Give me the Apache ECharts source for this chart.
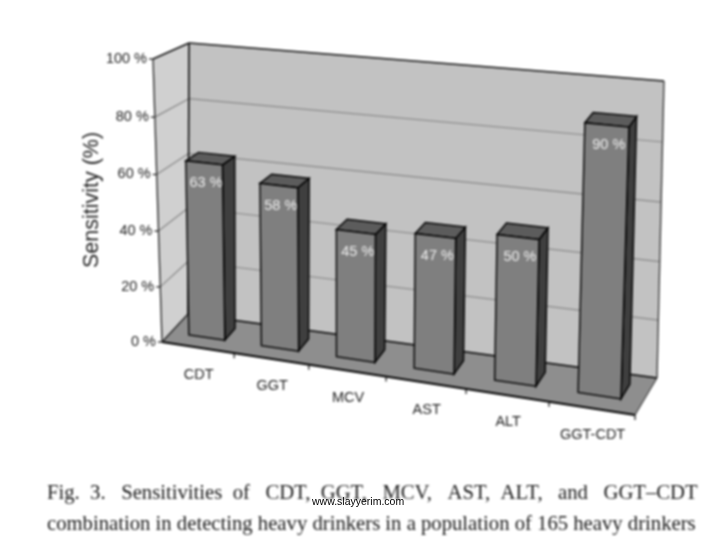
<!DOCTYPE html>
<html>
<head>
<meta charset="utf-8">
<style>
html,body{margin:0;padding:0;background:#fff}
#chart{width:720px;height:540px;filter:blur(0.8px)}
#mark{position:absolute;left:312px;top:495px;font:10.5px/12px "Liberation Sans",Arial,sans-serif;color:#000;white-space:nowrap}
</style>
<script src="https://cdn.jsdelivr.net/npm/echarts@6/dist/echarts.min.js"></script>
</head>
<body>
<div id="chart"></div>
<div id="mark"></div>
<script>
const categories = ['CDT', 'GGT', 'MCV', 'AST', 'ALT', 'GGT-CDT'];
const sensitivities = [63, 58, 45, 47, 50, 90];
const yTicks = [0, 20, 40, 60, 80, 100];
const yAxisTitle = 'Sensitivity (%)';
const captionLine1 = 'Fig.  3.   Sensitivities  of   CDT,  GGT,   MCV,   AST,  ALT,   and   GGT\u2013CDT';
const captionLine2 = 'combination in detecting heavy drinkers in a population of 165 heavy drinkers';
const watermark = 'www.slayyerim.com';
document.getElementById('mark').textContent = watermark;

// Projected corners of the chart box: [front/back][left/right][bottom/top]
const C = {
  flb: [162, 342], flt: [153, 59],
  frb: [635, 415], frt: [646, 107],
  blb: [188, 314], blt: [189, 43],
  brb: [657, 378], brt: [664, 81]
};
const lerp = (a, b, t) => [a[0] + (b[0] - a[0]) * t, a[1] + (b[1] - a[1]) * t];
function warp(u, v, z) {
  const ut = 0.9 * u / (1 - 0.1 * u);
  const vt = 0.967 * v / (1 - 0.033 * v);
  const fb = lerp(C.flb, C.frb, ut), ft = lerp(C.flt, C.frt, ut);
  const bb = lerp(C.blb, C.brb, ut), bt = lerp(C.blt, C.brt, ut);
  return lerp(lerp(fb, ft, vt), lerp(bb, bt, vt), z);
}
const poly = (points, fill, stroke, lw) => ({
  type: 'polygon', shape: { points },
  style: { fill, stroke: stroke || fill, lineWidth: lw === undefined ? 1 : lw }
});
const line = (a, b, stroke, lw) => ({
  type: 'line', shape: { x1: a[0], y1: a[1], x2: b[0], y2: b[1] },
  style: { stroke, lineWidth: lw || 1 }
});
const sans = '"Liberation Sans", Arial, sans-serif';
const normV = (py, cs) => 1 - (py - cs.y) / cs.height;
const normU = (px, cs) => (px - cs.x) / cs.width;

function renderBox(params, api) {
  const cs = params.coordSys;
  const kids = [
    poly([warp(0,0,0), warp(0,1,0), warp(0,1,1), warp(0,0,1)], '#d0d0d0', '#d0d0d0', 0),
    poly([warp(0,0,1), warp(0,1,1), warp(1,1,1), warp(1,0,1)], '#c2c2c2', '#c2c2c2', 0),
    poly([warp(0,0,0), warp(0,0,1), warp(1,0,1), warp(1,0,0)], '#8e8e8e', '#8e8e8e', 0)
  ];
  yTicks.forEach(t => {
    const v = normV(api.coord([0, t])[1], cs);
    if (t > 0 && t < 100) {
      kids.push(line(warp(0,v,0), warp(0,v,1), '#888888', 1.2));
      kids.push(line(warp(0,v,1), warp(1,v,1), '#888888', 1.2));
    }
    const p = warp(0,v,0);
    kids.push(line(p, [p[0] - 4, p[1]], '#222', 1.3));
  });
  categories.forEach((c, i) => {
    const u = normU(api.coord([i, 0])[0] + api.size([1, 0])[0] / 2, cs);
    const p = warp(u,0,0);
    kids.push(line(p, [p[0], p[1] + 5], '#222', 1.3));
  });
  kids.push(line(warp(0,0,0), warp(0,1,0), '#222', 1.3));
  kids.push(line(warp(0,1,0), warp(0,1,1), '#111', 1.4));
  kids.push(line(warp(0,1,1), warp(0,0,1), '#000', 1.5));
  kids.push(line(warp(0,1,1), warp(1,1,1), '#111', 1.5));
  kids.push(line(warp(1,1,1), warp(1,0,1), '#333', 1.3));
  kids.push(line(warp(0,0,1), warp(1,0,1), '#000', 1.5));
  kids.push(line(warp(0,0,0), warp(1,0,0), '#000', 2));
  kids.push(line(warp(0,0,0), warp(0,0,1), '#222', 1.3));
  kids.push(line(warp(1,0,0), warp(1,0,1), '#444', 1.2));
  return { type: 'group', children: kids };
}

function renderBar(params, api) {
  const cs = params.coordSys;
  const top = api.coord([api.value(0), api.value(1)]);
  const band = api.size([1, 0])[0];
  const u0 = normU(top[0] - band / 4, cs), u1 = normU(top[0] + band / 4, cs);
  const v = normV(top[1], cs);
  const z0 = 0.35, z1 = 0.75;
  const mid = warp((u0 + u1) / 2, v, z0);
  return {
    type: 'group',
    children: [
      poly([warp(u1,0,z0), warp(u1,v,z0), warp(u1,v,z1), warp(u1,0,z1)], '#3f3f3f', '#000', 1.4),
      poly([warp(u0,v,z0), warp(u0,v,z1), warp(u1,v,z1), warp(u1,v,z0)], '#5c5c5c', '#000', 1.4),
      poly([warp(u0,0,z0), warp(u0,v,z0), warp(u1,v,z0), warp(u1,0,z0)], '#7f7f7f', '#000', 1.4),
      { type: 'text', style: {
          x: mid[0] + 2, y: mid[1] + 20, text: api.value(1) + ' %', fill: '#f0f0f0',
          font: '14.5px ' + sans, align: 'center', verticalAlign: 'middle' } }
    ]
  };
}

function renderYLabel(params, api) {
  const cs = params.coordSys;
  const t = api.value(1);
  const p = warp(0, normV(api.coord([0, t])[1], cs), 0);
  return { type: 'text', style: {
    x: p[0] - 6, y: p[1], text: t + ' %', fill: '#222',
    font: '14.5px ' + sans, align: 'right', verticalAlign: 'middle' } };
}

function renderXLabel(params, api) {
  const cs = params.coordSys;
  const p = warp(normU(api.coord([api.value(0), 0])[0], cs), 0, 0);
  return { type: 'text', style: {
    x: p[0] + 1, y: p[1] + 27, text: categories[params.dataIndex], fill: '#222',
    font: '14.5px ' + sans, align: 'center', verticalAlign: 'middle' } };
}

const chart = echarts.init(document.getElementById('chart'), null, { renderer: 'canvas' });
const common = { type: 'custom', coordinateSystem: 'cartesian2d', silent: true, clip: false, animation: false };
chart.setOption({
  animation: false,
  backgroundColor: '#fff',
  grid: { left: 160, top: 60, width: 480, height: 280 },
  xAxis: { type: 'category', data: categories, show: false },
  yAxis: { type: 'value', min: 0, max: 100, interval: 20, show: false },
  series: [
    Object.assign({}, common, { name: 'box', data: [[categories[0], 0]], renderItem: renderBox, z: 1 }),
    Object.assign({}, common, { name: 'Sensitivity', data: categories.map((c, i) => [c, sensitivities[i]]), renderItem: renderBar, encode: { x: 0, y: 1 }, z: 2 }),
    Object.assign({}, common, { name: 'yLabels', data: yTicks.map(t => [categories[0], t]), renderItem: renderYLabel, encode: { x: 0, y: 1 }, z: 3 }),
    Object.assign({}, common, { name: 'xLabels', data: categories.map(c => [c, 0]), renderItem: renderXLabel, encode: { x: 0, y: 1 }, z: 3 })
  ],
  graphic: [
    { type: 'text', z: 10, x: 92, y: 200, rotation: Math.PI / 2, silent: true,
      style: { text: yAxisTitle, fill: '#222', font: '21.5px ' + sans, align: 'center', verticalAlign: 'middle' } },
    { type: 'text', z: 10, x: 47, y: 494, silent: true,
      style: { text: captionLine1, fill: '#1a1a1a', font: '20.7px "Liberation Serif", serif', align: 'left', verticalAlign: 'middle' } },
    { type: 'text', z: 10, x: 47, y: 525, silent: true,
      style: { text: captionLine2, fill: '#1a1a1a', font: '20.7px "Liberation Serif", serif', align: 'left', verticalAlign: 'middle' } }
  ]
});
</script>
</body>
</html>
